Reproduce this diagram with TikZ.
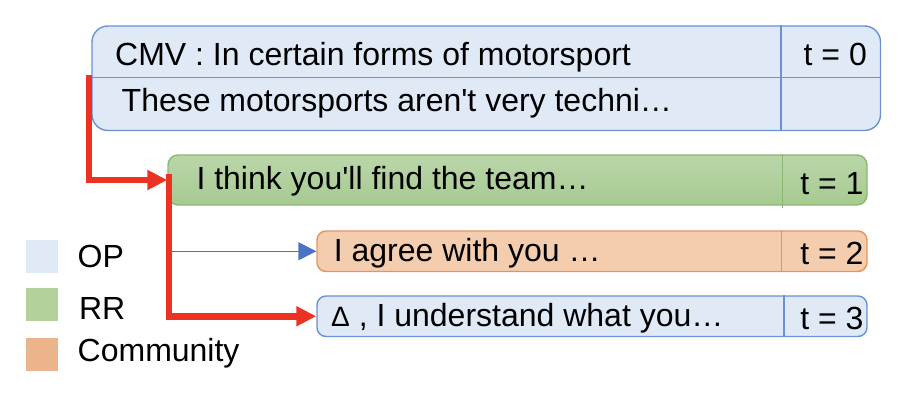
\documentclass[tikz,border=0pt]{standalone}
\usepackage{fontspec}
\setmainfont{Liberation Sans}
\usetikzlibrary{arrows.meta}

\definecolor{opfill}{HTML}{DFEAF6}
\definecolor{opline}{HTML}{6A92D4}
\definecolor{rrtop}{HTML}{BAD6AA}
\definecolor{rrbot}{HTML}{A6CA90}
\definecolor{rrline}{HTML}{8BB86E}
\definecolor{cmfill}{HTML}{F3CDAE}
\definecolor{cmline}{HTML}{E6935C}
\definecolor{rrkey}{HTML}{B3D19A}
\definecolor{cmkey}{HTML}{EBB48B}
\definecolor{replyred}{HTML}{EC3323}
\definecolor{replyblue}{HTML}{4A73C6}

\tikzset{
  msgbox/.style={draw, line width=1.4pt, inner sep=0pt, rectangle},
  opbox/.style={msgbox, draw=opline, fill=opfill},
  rrbox/.style={msgbox, draw=rrline, top color=rrtop, bottom color=rrbot},
  cmbox/.style={msgbox, draw=cmline, fill=cmfill},
  txt/.style={inner sep=0pt, anchor=base west, font=\fontsize{32}{38}\selectfont},
  keybox/.style={inner sep=0pt, minimum width=32pt, minimum height=33pt},
  bigreply/.style={draw=replyred, line width=6.5pt, line join=miter,
    -{Triangle[length=20pt,width=19pt]}},
  smallreply/.style={draw=replyblue, line width=1.5pt,
    -{Triangle[length=18pt,width=18pt]}},
}

\begin{document}
\begin{tikzpicture}[x=1pt,y=-1pt]
\useasboundingbox (0,0) rectangle (906,402);

% message boxes
\node[opbox, rounded corners=16pt, minimum width=788.5pt, minimum height=104.5pt] (op) at (486.25,78.25) {};
\node[rrbox, rounded corners=10pt, minimum width=699pt, minimum height=50pt] (rr) at (517.5,180) {};
\node[cmbox, rounded corners=9pt, minimum width=550pt, minimum height=40.5pt] (cm) at (592,251.25) {};
\node[opbox, rounded corners=9pt, minimum width=550pt, minimum height=40.5pt] (op2) at (592,316.25) {};

% table rules inside the boxes
\draw[opline, line width=1.4pt] (op.west |- 0,77.3) -- (op.east |- 0,77.3);
\draw[opline, line width=1.2pt] (781,0 |- op.north) -- (781,0 |- op.south);
\draw[rrline, line width=1.2pt] (782.7,0 |- rr.north) -- (782.7,207.5);
\draw[cmline, line width=1.2pt] (781.7,0 |- cm.north) -- (781.7,0 |- cm.south);
\draw[opline, line width=1.2pt] (784,0 |- op2.north) -- (784,0 |- op2.south);

% texts
\node[txt] (t0txt) at (115,65.5) {CMV : In certain forms of motorsport};
\node[txt] (t0time) at (803.5,65.7) {t = 0};
\node[txt] (t0body) at (121.5,111.5) {These motorsports aren\textquotesingle t very techni…};
\node[txt] (t1txt) at (196.3,189.5) {I think you\textquotesingle ll find the team…};
\node[txt] (t1time) at (800.2,194) {t = 1};
\node[txt] (t2txt) at (333.7,261.7) {I agree with you …};
\node[txt] (t2time) at (800.2,264) {t = 2};
\node[txt] (t3txt) at (331,326.7) {{\fontsize{28}{34}\selectfont Δ} , I understand what you…};
\node[txt] (t3time) at (800.2,329) {t = 3};

% reply connectors
\coordinate (s1) at (89,75);
\coordinate (s2) at (169,174);
\coordinate (s3) at (170.5,251.25);
\draw[bigreply] (s1) |- (rr.west);
\draw[bigreply] (s2) |- (op2.west);
\draw[smallreply] (s3) -- (cm.west);

% legend
\node[keybox, fill=opfill] (kop) at (42,256.5) {};
\node[keybox, fill=rrkey] (krr) at (42,304) {};
\node[keybox, fill=cmkey] (kcm) at (42,354.5) {};
\node[txt] (lop) at (77.5,267.7) {OP};
\node[txt] (lrr) at (78.8,319) {RR};
\node[txt] (lcm) at (77.5,361.7) {Community};
\end{tikzpicture}
\end{document}
